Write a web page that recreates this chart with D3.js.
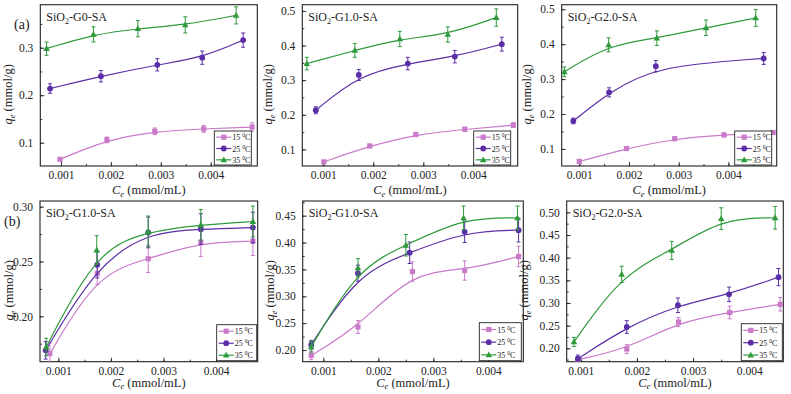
<!DOCTYPE html>
<html><head><meta charset="utf-8">
<script src="https://cdn.jsdelivr.net/npm/d3@7"></script>
<style>body{margin:0;background:#fff}svg{display:block}</style>
</head><body>
<svg id="c" width="791" height="394"></svg>
<script>
// ---------- data ----------
const seriesNames = ["15", "25", "35"];
const titlesRow = ["SiO2-G0-SA", "SiO2-G1.0-SA", "SiO2-G2.0-SA", "SiO2-G1.0-SA", "SiO2-G1.0-SA", "SiO2-G2.0-SA"];
const xTicks = [0.001, 0.002, 0.003, 0.004];
const yTicksTop1 = [0.1, 0.2, 0.3];
const yTicksTop2 = [0.1, 0.2, 0.3, 0.4, 0.5];
const yTicksB1 = [0.20, 0.25, 0.30];
const yTicksB2 = [0.20, 0.25, 0.30, 0.35, 0.40, 0.45];
const yTicksB3 = [0.20, 0.25, 0.30, 0.35, 0.40, 0.45, 0.50];

// panel 1
const p1x15 = [0.00098, 0.00192, 0.00288, 0.00386, 0.00483];
const p1y15 = [0.065, 0.106, 0.124, 0.129, 0.133];
const p1e15 = [0.004, 0.006, 0.007, 0.007, 0.009];
const p1x25 = [0.00078, 0.0018, 0.00293, 0.00383, 0.00465];
const p1y25 = [0.214, 0.240, 0.264, 0.279, 0.316];
const p1e25 = [0.010, 0.012, 0.013, 0.014, 0.015];
const p1x35 = [0.00071, 0.00165, 0.00254, 0.00349, 0.00451];
const p1y35 = [0.298, 0.328, 0.340, 0.348, 0.368];
const p1e35 = [0.014, 0.016, 0.017, 0.017, 0.018];
// panel 2
const p2x15 = [0.00101, 0.00193, 0.00285, 0.00383, 0.0048];
const p2y15 = [0.064, 0.110, 0.143, 0.158, 0.170];
const p2e15 = [0.003, 0.004, 0.006, 0.006, 0.007];
const p2x25 = [0.00085, 0.00171, 0.00269, 0.00363, 0.00457];
const p2y25 = [0.213, 0.315, 0.348, 0.368, 0.404];
const p2e25 = [0.010, 0.016, 0.018, 0.018, 0.020];
const p2x35 = [0.00067, 0.00163, 0.00253, 0.00349, 0.00446];
const p2y35 = [0.348, 0.386, 0.419, 0.432, 0.481];
const p2e35 = [0.018, 0.020, 0.022, 0.022, 0.025];
// panel 3
const p3x15 = [0.001, 0.00195, 0.00292, 0.00391, 0.0049];
const p3y15 = [0.064, 0.101, 0.129, 0.140, 0.147];
const p3e15 = [0.004, 0.004, 0.005, 0.005, 0.005];
const p3x25 = [0.00088, 0.0016, 0.00254, 0.00471];
const p3y25 = [0.180, 0.262, 0.337, 0.359];
const p3e25 = [0.008, 0.013, 0.016, 0.017];
const p3x35 = [0.0007, 0.00159, 0.00256, 0.00355, 0.00455];
const p3y35 = [0.321, 0.398, 0.417, 0.447, 0.475];
const p3e35 = [0.014, 0.020, 0.021, 0.022, 0.024];
// panel 4
const p4x15 = [0.00084, 0.00174, 0.00271, 0.00371, 0.0047];
const p4y15 = [0.166, 0.239, 0.2525, 0.2675, 0.2685];
const p4e15 = [0.010, 0.010, 0.0125, 0.013, 0.013];
const p4x25 = [0.00076, 0.00174, 0.00271, 0.00371, 0.0047];
const p4y25 = [0.169, 0.247, 0.2765, 0.2795, 0.281];
const p4e25 = [0.008, 0.012, 0.014, 0.014, 0.014];
const p4x35 = [0.00077, 0.00173, 0.00271, 0.00371, 0.0047];
const p4y35 = [0.172, 0.2605, 0.2775, 0.2835, 0.2865];
const p4e35 = [0.008, 0.013, 0.014, 0.014, 0.014];
// panel 5
const p5x15 = [0.00078, 0.00163, 0.00262, 0.00357, 0.00455];
const p5y15 = [0.190, 0.243, 0.346, 0.348, 0.374];
const p5e15 = [0.008, 0.012, 0.018, 0.018, 0.019];
const p5x25 = [0.00078, 0.00163, 0.00257, 0.00357, 0.00455];
const p5y25 = [0.210, 0.343, 0.381, 0.420, 0.423];
const p5e25 = [0.008, 0.015, 0.020, 0.020, 0.022];
const p5x35 = [0.00078, 0.00163, 0.0025, 0.00355, 0.00453];
const p5y35 = [0.206, 0.353, 0.395, 0.446, 0.446];
const p5e35 = [0.010, 0.017, 0.020, 0.022, 0.022];
// panel 6
const p6x15 = [0.00095, 0.00182, 0.00274, 0.00365, 0.00455];
const p6y15 = [0.175, 0.1985, 0.258, 0.279, 0.297];
const p6e15 = [0.006, 0.010, 0.010, 0.014, 0.015];
const p6x25 = [0.00095, 0.00182, 0.00273, 0.00364, 0.00452];
const p6y25 = [0.177, 0.247, 0.295, 0.319, 0.357];
const p6e25 = [0.008, 0.014, 0.016, 0.016, 0.019];
const p6x35 = [0.00088, 0.00173, 0.00262, 0.0035, 0.00446];
const p6y35 = [0.214, 0.363, 0.416, 0.486, 0.488];
const p6e35 = [0.010, 0.018, 0.020, 0.024, 0.025];

// ---------- layout ----------
const colors = ["#c97ac9", "#5b2ea6", "#2f9a3c"];
const FONT = "'Liberation Serif','Times New Roman',serif";
const svg = d3.select("#c");

const panels = [
  {L:40.3, R:257.3, T:4.7, B:166, xd:[0.000585,0.004934], yd:[0.051,0.3905], yt:yTicksTop1, yf:".1f", ym:0.05,
   xs:[p1x15,p1x25,p1x35], ys:[p1y15,p1y25,p1y35], es:[p1e15,p1e25,p1e35], leg:[6,1], ylx:12, xlo:28, lw:37, lh:34},
  {L:302.3, R:517.7, T:4.7, B:166, xd:[0.00058,0.004888], yd:[0.052,0.518], yt:yTicksTop2, yf:".1f", ym:0.05,
   xs:[p2x15,p2x25,p2x35], ys:[p2y15,p2y25,p2y35], es:[p2e15,p2e25,p2e35], leg:[7,1], ylx:272, xlo:28, lw:37, lh:34},
  {L:561.7, R:776.7, T:4.7, B:166, xd:[0.000646,0.004972], yd:[0.051,0.513], yt:yTicksTop2, yf:".1f", ym:0.05,
   xs:[p3x15,p3x25,p3x35], ys:[p3y15,p3y25,p3y35], es:[p3e15,p3e25,p3e35], leg:[5,1], ylx:531, xlo:28, lw:37, lh:34},
  {L:40, R:257.7, T:201, B:361.7, xd:[0.000652,0.004791], yd:[0.1586,0.3052], yt:yTicksB1, yf:".2f", ym:0.025,
   xs:[p4x15,p4x25,p4x35], ys:[p4y15,p4y25,p4y35], es:[p4e15,p4e25,p4e35], leg:[1,1], ylx:13, xlo:25, lw:40, lh:36},
  {L:302.7, R:523.3, T:201, B:361.7, xd:[0.000625,0.004636], yd:[0.1783,0.4773], yt:yTicksB2, yf:".2f", ym:0.025,
   xs:[p5x15,p5x25,p5x35], ys:[p5y15,p5y25,p5y35], es:[p5e15,p5e25,p5e35], leg:[2,1], ylx:274, xlo:25, lw:42, lh:38},
  {L:566.7, R:783.3, T:201, B:361.7, xd:[0.000751,0.004605], yd:[0.1704,0.525], yt:yTicksB3, yf:".2f", ym:0.025,
   xs:[p6x15,p6x25,p6x35], ys:[p6y15,p6y25,p6y35], es:[p6e15,p6e25,p6e35], leg:[1,1], ylx:528, xlo:25, lw:41, lh:37}
];

function marker(g, k, cx, cy, col) {
  if (k === 0) g.append("rect").attr("x", cx-2.6).attr("y", cy-2.6).attr("width", 5.2).attr("height", 5.2).attr("fill", col);
  else if (k === 1) g.append("circle").attr("cx", cx).attr("cy", cy).attr("r", 2.9).attr("fill", col);
  else g.append("path").attr("d", `M${cx},${cy-3.4}L${cx+3.3},${cy+2.4}L${cx-3.3},${cy+2.4}Z`).attr("fill", col);
}

panels.forEach((p, i) => {
  const x = d3.scaleLinear().domain(p.xd).range([p.L, p.R]);
  const y = d3.scaleLinear().domain(p.yd).range([p.B, p.T]);
  const g = svg.append("g");

  const cid = "clip" + i;
  svg.append("clipPath").attr("id", cid).append("rect")
    .attr("x", p.L).attr("y", p.T).attr("width", p.R - p.L).attr("height", p.B - p.T);

  const xMinor = [];
  for (let v = 0.0005; v < p.xd[1]; v += 0.0005) if (v > p.xd[0]) xMinor.push(+v.toFixed(5));
  const yMinor = [];
  for (let v = 0; v < p.yd[1]; v += p.ym) if (v > p.yd[0]) yMinor.push(+v.toFixed(4));

  g.append("g").attr("transform", `translate(0,${p.B})`)
    .call(d3.axisBottom(x).tickValues(xTicks).tickFormat(d3.format(".3f")).tickSizeInner(-4).tickSizeOuter(0).tickPadding(5));
  g.append("g").attr("transform", `translate(0,${p.B})`)
    .call(d3.axisBottom(x).tickValues(xMinor).tickFormat("").tickSizeInner(-2).tickSizeOuter(0));
  g.append("g").attr("transform", `translate(${p.L},0)`)
    .call(d3.axisLeft(y).tickValues(p.yt).tickFormat(d3.format(p.yf)).tickSizeInner(-4).tickSizeOuter(0).tickPadding(7));
  g.append("g").attr("transform", `translate(${p.L},0)`)
    .call(d3.axisLeft(y).tickValues(yMinor).tickFormat("").tickSizeInner(-2).tickSizeOuter(0));
  g.selectAll(".domain").remove();
  g.selectAll(".tick line").attr("stroke", "#222").attr("stroke-width", 0.9);
  g.selectAll(".tick text").attr("font-family", FONT).attr("font-size", 11.5).attr("fill", "#222");

  g.append("rect").attr("x", p.L).attr("y", p.T).attr("width", p.R - p.L).attr("height", p.B - p.T)
    .attr("fill", "none").attr("stroke", "#222").attr("stroke-width", 1.1);

  const sg = g.append("g").attr("clip-path", `url(#${cid})`);
  [0, 1, 2].forEach(k => {
    const pts = p.xs[k].map((xv, j) => ({x: xv, y: p.ys[k][j], e: p.es[k][j]}));
    const col = colors[k];
    sg.append("path").datum(pts)
      .attr("d", d3.line().x(d => x(d.x)).y(d => y(d.y)).curve(d3.curveBasis))
      .attr("fill", "none").attr("stroke", col).attr("stroke-width", 1.2);
    pts.forEach(d => {
      const cx = x(d.x), y0 = y(d.y - d.e), y1 = y(d.y + d.e);
      sg.append("path").attr("d", `M${cx},${y0}V${y1}M${cx-2},${y0}H${cx+2}M${cx-2},${y1}H${cx+2}`)
        .attr("stroke", col).attr("stroke-width", 1).attr("fill", "none");
      marker(sg, k, cx, y(d.y), col);
    });
  });

  const t = g.append("text").attr("x", p.L + 6).attr("y", p.T + 16).attr("font-family", FONT).attr("font-size", 12).attr("fill", "#222");
  const title = titlesRow[i];
  t.append("tspan").text(title.slice(0, 3));
  t.append("tspan").attr("dy", 3).attr("font-size", 8).text("2");
  t.append("tspan").attr("dy", -3).text(title.slice(4));

  const xl = g.append("text").attr("x", (p.L + p.R) / 2).attr("y", p.B + p.xlo).attr("text-anchor", "middle")
    .attr("font-family", FONT).attr("font-size", 12.5).attr("fill", "#222");
  xl.append("tspan").attr("font-style", "italic").text("C");
  xl.append("tspan").attr("font-style", "italic").attr("font-size", 8.5).attr("dy", 2.5).text("e");
  xl.append("tspan").attr("dy", -2.5).text(" (mmol/mL)");

  const cy = (p.T + p.B) / 2 + 9;
  const yl = g.append("text").attr("transform", `translate(${p.ylx},${cy}) rotate(-90)`).attr("text-anchor", "middle")
    .attr("font-family", FONT).attr("font-size", 12.5).attr("fill", "#222");
  yl.append("tspan").attr("font-style", "italic").text("q");
  yl.append("tspan").attr("font-style", "italic").attr("font-size", 8.5).attr("dy", 3).text("e");
  yl.append("tspan").attr("dy", -3).text(" (mmol/g)");

  const lw = p.lw, lh = p.lh, rowH = lh / 3;
  const lx = p.R - p.leg[0] - lw, ly = p.B - p.leg[1] - lh;
  const lg = g.append("g");
  lg.append("rect").attr("x", lx).attr("y", ly).attr("width", lw).attr("height", lh)
    .attr("fill", "#fff").attr("stroke", "#222").attr("stroke-width", 0.9);
  seriesNames.forEach((s, k) => {
    const yy = ly + rowH / 2 + 0.5 + k * rowH;
    lg.append("line").attr("x1", lx + 2).attr("x2", lx + 17).attr("y1", yy).attr("y2", yy)
      .attr("stroke", colors[k]).attr("stroke-width", 1.2);
    marker(lg, k, lx + 9.5, yy, colors[k]);
    const tx = lg.append("text").attr("x", lx + 18).attr("y", yy + 3).attr("font-family", FONT)
      .attr("font-size", 8).attr("fill", "#222");
    tx.append("tspan").text(s + " ");
    tx.append("tspan").attr("dy", -3).attr("font-size", 5.5).text("0");
    tx.append("tspan").attr("dy", 3).text("C");
  });
});

svg.append("text").attr("x", 14).attr("y", 29).attr("font-family", FONT).attr("font-size", 14).attr("fill", "#222").text("(a)");
svg.append("text").attr("x", 4).attr("y", 226).attr("font-family", FONT).attr("font-size", 14).attr("fill", "#222").text("(b)");
</script>
</body></html>
